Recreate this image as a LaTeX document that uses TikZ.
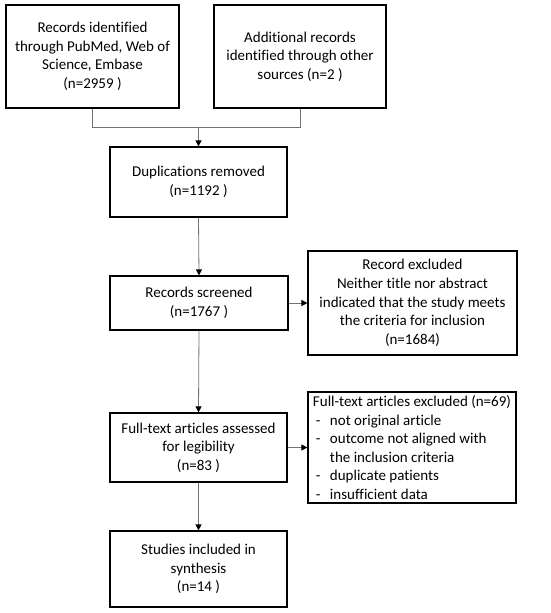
\documentclass[tikz,border=0pt]{standalone}
\usepackage{fontspec}
\setmainfont{Carlito}[Ligatures=NoCommon]
\usetikzlibrary{arrows.meta}
\begin{document}
\begin{tikzpicture}[x=1pt,y=-1pt,
 box/.style={draw=black, line width=1.2pt, align=center, inner sep=0pt, font=\fontsize{15}{18.6}\selectfont},
 conn/.style={draw=black!55, line width=0.8pt},
 arr/.style={conn, -{Triangle[length=6pt,width=6pt,fill=black,color=black]}}]
\useasboundingbox[fill=white] (0,0) rectangle (550,613);
\node[box, minimum width=173pt, minimum height=103pt] (b1) at (92.5,56.5) {Records identified\\through PubMed, Web of\\Science, Embase\\(n=2959 )};
\node[box, minimum width=172pt, minimum height=103pt] (b2) at (300,56.5) {Additional records\\identified through other\\sources (n=2 )};
\node[box, minimum width=177pt, minimum height=70pt] (b3) at (198.5,182) {Duplications removed\\(n=1192 )};
\node[box, minimum width=178pt, minimum height=54pt] (b4) at (199,303) {Records screened\\(n=1767 )};
\node[box, minimum width=209pt, minimum height=104pt] (b5) at (412.5,303) {Record excluded\\Neither title nor abstract\\indicated that the study meets\\the criteria for inclusion\\(n=1684)};
\node[box, minimum width=208pt, minimum height=111pt, align=left] (b7) at (412,447.5) {Full-text articles excluded (n=69)\\
\makebox[17pt][l]{\hspace{3pt}-}not original article\\
\makebox[17pt][l]{\hspace{3pt}-}outcome not aligned with\\
\hspace{17pt}the inclusion criteria\\
\makebox[17pt][l]{\hspace{3pt}-}duplicate patients\\
\makebox[17pt][l]{\hspace{3pt}-}insufficient data};
\node[box, minimum width=177pt, minimum height=69pt] (b6) at (198.5,447.5) {Full-text articles assessed\\for legibility\\(n=83 )};
\node[box, minimum width=177pt, minimum height=76pt] (b8) at (198.5,569) {Studies included in\\synthesis\\(n=14 )};
\coordinate (j) at (198.5,127);
\draw[conn] (b1.south) |- (j);
\draw[conn] (b2.south) |- (j);
\draw[arr] (j) -- (b3.north);
\draw[arr] (b3.south) -- (b4.north);
\draw[arr] (b4.east) -- (b5.west);
\draw[arr] (b4.south) -- (b6.north);
\draw[arr] (b6.east) -- (b7.west);
\draw[arr] (b6.south) -- (b8.north);
\end{tikzpicture}
\end{document}
